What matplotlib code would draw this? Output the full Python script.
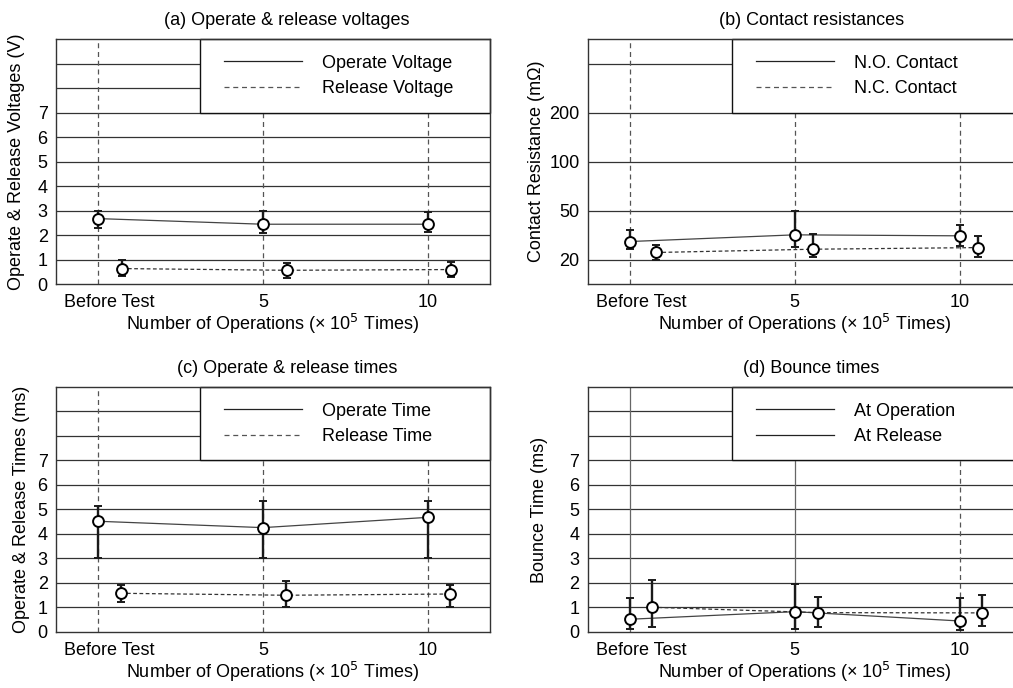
import numpy as np
import matplotlib
matplotlib.use('Agg')
import matplotlib.pyplot as plt
from matplotlib.patches import Rectangle
from matplotlib.lines import Line2D
from matplotlib.transforms import ScaledTranslation
from matplotlib.ticker import NullLocator

plt.rcParams['font.family'] = ['Liberation Sans', 'DejaVu Sans']

# ---------------- data ----------------
x_pos = [0, 5, 10]
x_labels = ['Before Test', '5', '10']

# (a) Operate & release voltages (V)
op_v = [2.67, 2.44, 2.44]
op_v_lo = [2.29, 2.10, 2.12]
op_v_hi = [2.97, 2.97, 2.92]
rel_v_x = [0.72, 5.72, 10.70]
rel_v = [0.63, 0.56, 0.59]
rel_v_lo = [0.31, 0.25, 0.29]
rel_v_hi = [0.97, 0.87, 0.90]

# (b) Contact resistances (mOhm)
res_ticks = [20, 50, 100, 200]
no_c = [31.0, 35.1, 34.5]
no_c_lo = [26.7, 27.6, 28.2]
no_c_hi = [38.0, 49.6, 41.2]
nc_x = [0.80, 5.56, 10.56]
nc_c = [24.3, 26.3, 27.3]
nc_c_lo = [19.4, 21.6, 21.6]
nc_c_hi = [28.8, 35.9, 34.5]

# (c) Operate & release times (ms)
op_t = [4.52, 4.26, 4.68]
op_t_lo = [3.01, 3.00, 3.00]
op_t_hi = [5.13, 5.35, 5.33]
rel_t_x = [0.69, 5.69, 10.67]
rel_t = [1.58, 1.50, 1.55]
rel_t_lo = [1.24, 1.03, 1.03]
rel_t_hi = [1.92, 2.08, 1.92]

# (d) Bounce times (ms)
at_op = [0.52, 0.83, 0.45]
at_op_lo = [0.11, 0.11, 0.08]
at_op_hi = [1.38, 1.96, 1.38]
at_rel_x = [0.68, 5.70, 10.67]
at_rel = [1.01, 0.79, 0.78]
at_rel_lo = [0.19, 0.22, 0.26]
at_rel_hi = [2.13, 1.44, 1.49]

# ---------------- style ----------------
FS = 13
GRID_C = '#333333'
VLINE_C = '#555555'
DASH = (0, (4, 3))

fig = plt.figure(figsize=(10.13, 6.88), dpi=100)

W = 0.4284
H = 0.3561
pos = {
    'a': [0.0553, 0.5872, W, H],
    'b': [0.5802, 0.5872, W, H],
    'c': [0.0553, 0.0814, W, H],
    'd': [0.5802, 0.0814, W, H],
}


def draw_series(ax, x, y, lo, hi, ls):
    y = np.asarray(y, float)
    yerr = [y - np.asarray(lo, float), np.asarray(hi, float) - y]
    if ls == 'solid':
        ax.plot(x, y, color='#444444', lw=0.9, ls='-', zorder=3)
    else:
        ax.plot(x, y, color='#333333', lw=0.9, ls=(0, (3, 2)), zorder=3)
    ax.errorbar(x, y, yerr=yerr, fmt='none', ecolor='#1a1a1a',
                elinewidth=1.7, capsize=2.6, capthick=1.4, zorder=4)
    ax.plot(x, y, ls='none', marker='o', ms=7.8, mfc='white', mec='black',
            mew=1.4, zorder=5)


def setup(ax, title, title_x, ylabel, ylabel_x, grid_y, vstyles,
          leg_labels, leg_styles):
    for g in grid_y:
        ax.axhline(g, color=GRID_C, lw=0.9, zorder=1)
    for xv, st in zip(x_pos, vstyles):
        if st == 'dashed':
            ax.axvline(xv, color=VLINE_C, lw=0.9, ls=DASH, zorder=1)
        else:
            ax.axvline(xv, color='#666666', lw=0.9, ls='-', zorder=1)
    rect = Rectangle((0.3325, 0.7), 0.6675, 0.3, transform=ax.transAxes,
                     facecolor='white', edgecolor='#111111', lw=1.0,
                     zorder=2, clip_on=False)
    ax.add_patch(rect)
    handles = []
    for st in leg_styles:
        if st == 'solid':
            handles.append(Line2D([], [], color='#222222', lw=0.9, ls='-'))
        else:
            handles.append(Line2D([], [], color='#555555', lw=0.9, ls=DASH))
    leg = ax.legend(handles, leg_labels, loc='center left',
                    bbox_to_anchor=(0.387, 0.85), frameon=False,
                    borderpad=0, borderaxespad=0, handlelength=4.32,
                    handletextpad=1.1, labelspacing=0.47, fontsize=FS)
    leg.set_zorder(6)

    ax.set_xlim(-1.27, 11.88)
    ax.set_xticks(x_pos)
    ax.set_xticklabels(x_labels, fontsize=FS)
    ax.tick_params(axis='both', length=0, labelsize=FS)
    ax.tick_params(axis='x', pad=7)
    ax.tick_params(axis='y', pad=6)
    lab = ax.xaxis.get_major_ticks()[0].label1
    lab.set_transform(lab.get_transform() +
                      ScaledTranslation(8 / 72, 0, fig.dpi_scale_trans))
    ax.set_xlabel('Number of Operations (\u00d7 10$^5$ Times)', fontsize=FS)
    ax.xaxis.set_label_coords(0.5, -0.115)
    ax.set_ylabel(ylabel, fontsize=FS)
    ax.yaxis.set_label_coords(ylabel_x, 0.5)
    ax.set_title(title, fontsize=FS, x=title_x, pad=10)
    for s in ax.spines.values():
        s.set_color('#333333')
        s.set_linewidth(1.0)


# (a)
ax = fig.add_axes(pos['a'])
ax.set_ylim(0, 10)
ax.set_yticks(range(8))
draw_series(ax, x_pos, op_v, op_v_lo, op_v_hi, 'solid')
draw_series(ax, rel_v_x, rel_v, rel_v_lo, rel_v_hi, 'dashed')
setup(ax, '(a) Operate & release voltages', 0.532,
      'Operate & Release Voltages (V)', -0.072, range(1, 10),
      ['dashed', 'dashed', 'dashed'],
      ['Operate Voltage', 'Release Voltage'], ['solid', 'dashed'])

# (b)
step_lo = res_ticks[1] - res_ticks[0]
step_hi = res_ticks[-1] - res_ticks[-2]
knots_v = [res_ticks[0] - 0.5 * step_lo] + res_ticks + [res_ticks[-1] + 1.5 * step_hi]
knots_p = [0.5] + list(range(1, len(res_ticks) + 1)) + [len(res_ticks) + 1.5]


def fwd(v):
    return np.interp(np.asarray(v, float), knots_v, knots_p)


def inv(p):
    return np.interp(np.asarray(p, float), knots_p, knots_v)


ax = fig.add_axes(pos['b'])
ax.set_yscale('function', functions=(fwd, inv))
ax.set_ylim(knots_v[0], knots_v[-1])
ax.set_yticks(res_ticks)
ax.set_yticklabels([str(t) for t in res_ticks])
ax.yaxis.set_minor_locator(NullLocator())
draw_series(ax, x_pos, no_c, no_c_lo, no_c_hi, 'solid')
draw_series(ax, nc_x, nc_c, nc_c_lo, nc_c_hi, 'dashed')
setup(ax, '(b) Contact resistances', 0.515,
      'Contact Resistance (m\u03a9)', -0.099,
      res_ticks + [res_ticks[-1] + step_hi],
      ['dashed', 'dashed', 'dashed'],
      ['N.O. Contact', 'N.C. Contact'], ['solid', 'dashed'])

# (c)
ax = fig.add_axes(pos['c'])
ax.set_ylim(0, 10)
ax.set_yticks(range(8))
draw_series(ax, x_pos, op_t, op_t_lo, op_t_hi, 'solid')
draw_series(ax, rel_t_x, rel_t, rel_t_lo, rel_t_hi, 'dashed')
setup(ax, '(c) Operate & release times', 0.532,
      'Operate & Release Times (ms)', -0.061, range(1, 10),
      ['dashed', 'dashed', 'dashed'],
      ['Operate Time', 'Release Time'], ['solid', 'dashed'])

# (d)
ax = fig.add_axes(pos['d'])
ax.set_ylim(0, 10)
ax.set_yticks(range(8))
draw_series(ax, x_pos, at_op, at_op_lo, at_op_hi, 'solid')
draw_series(ax, at_rel_x, at_rel, at_rel_lo, at_rel_hi, 'dashed')
setup(ax, '(d) Bounce times', 0.515,
      'Bounce Time (ms)', -0.092, range(1, 10),
      ['solid', 'solid', 'dashed'],
      ['At Operation', 'At Release'], ['solid', 'solid'])

fig.savefig('out.png', dpi=100)
